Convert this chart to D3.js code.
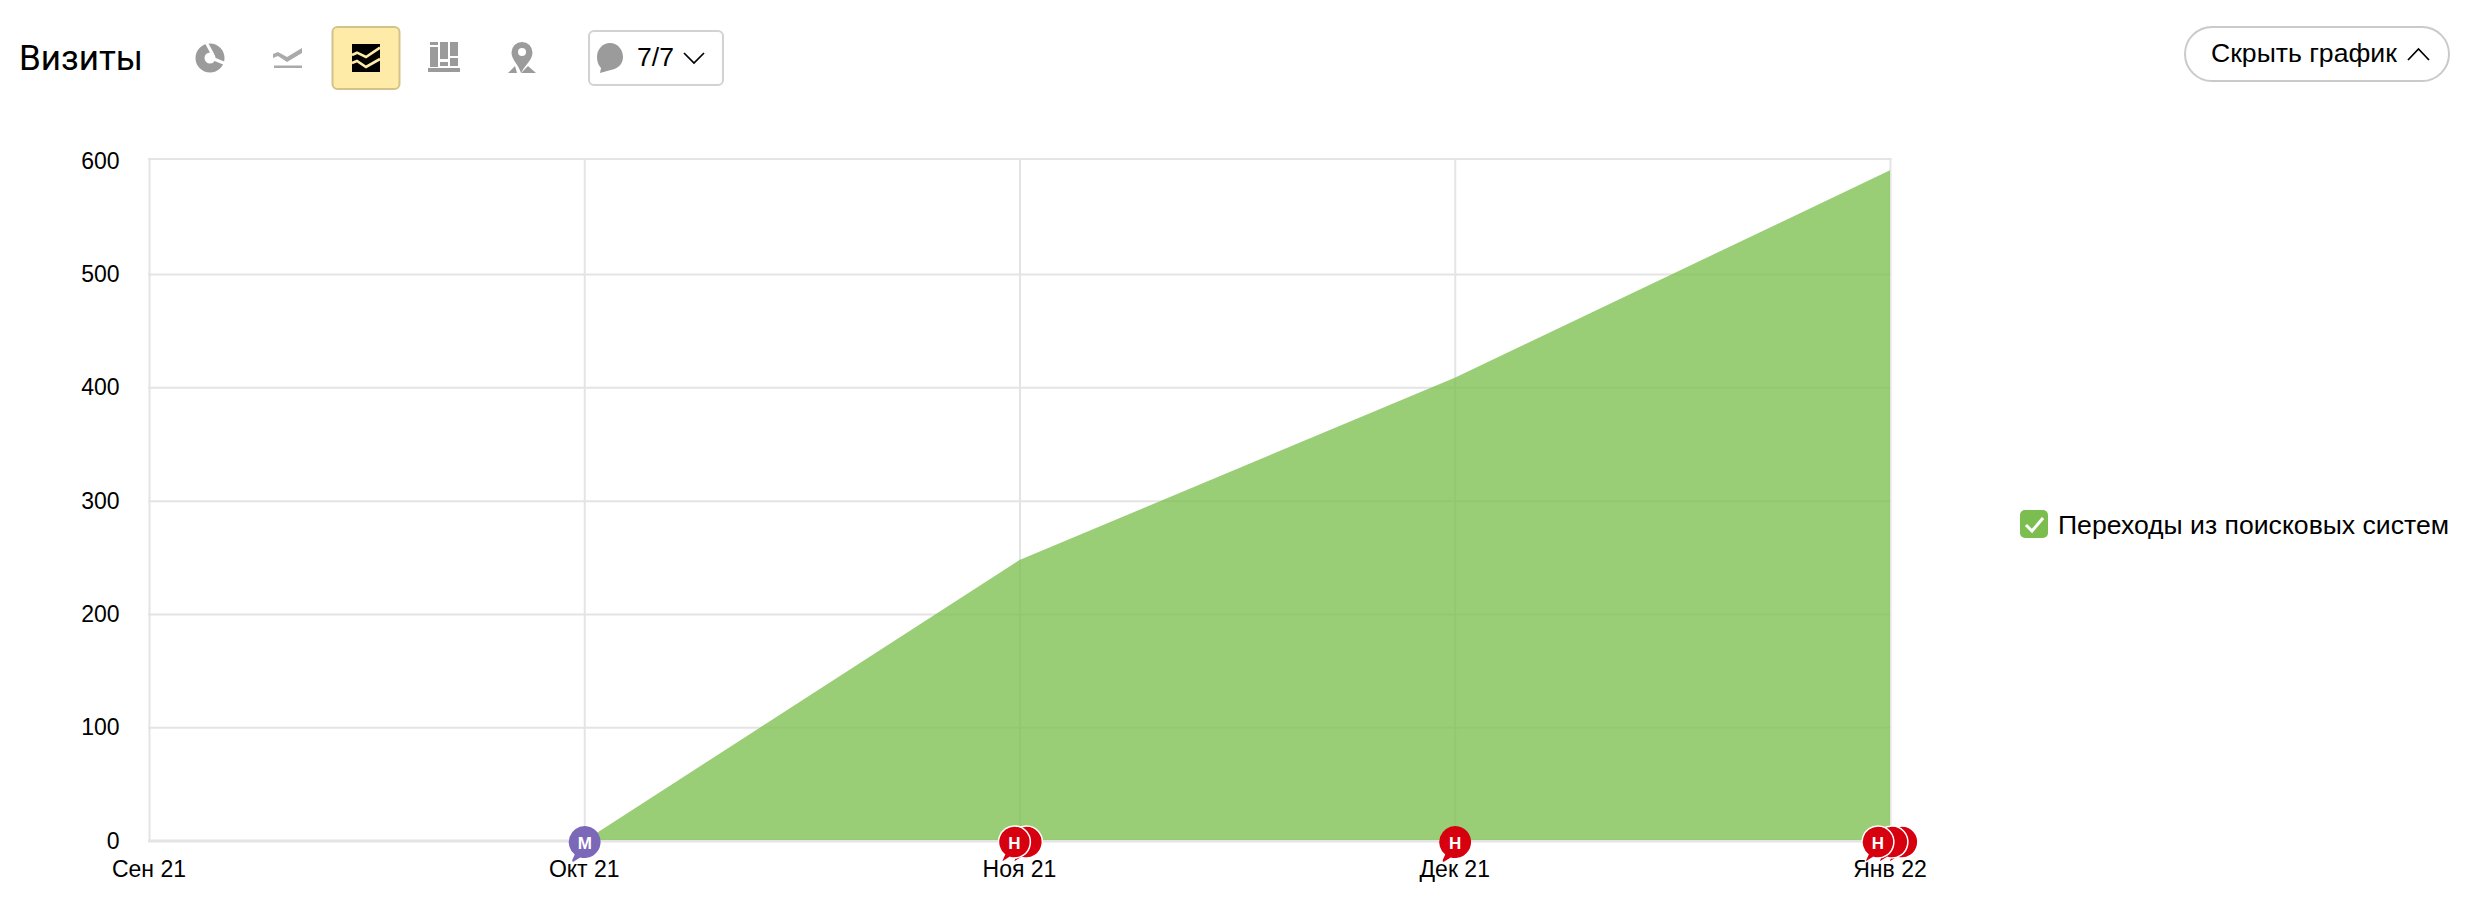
<!DOCTYPE html>
<html><head><meta charset="utf-8">
<script src="https://cdn.jsdelivr.net/npm/d3@7/dist/d3.min.js"></script>
<style>html,body{margin:0;padding:0;background:#fff}svg{display:block}text{font-family:"Liberation Sans",Arial,sans-serif;fill:#000}</style>
</head><body><svg id="c" width="2466" height="900"></svg>
<script>
const months = ["Сен 21","Окт 21","Ноя 21","Дек 21","Янв 22"];
const visits = [0,0,248,409,592];
const yTicks = [0,100,200,300,400,500,600];
const seriesName = "Переходы из поисковых систем";
const title = "Визиты";
const counter = "7/7";
const hideLabel = "Скрыть график";
const noteMonths = ["Окт 21","Ноя 21","Дек 21","Янв 22"];
const noteLetters = ["М","Н","Н","Н"];
const noteColors = ["#7b68b8","#d6000f","#d6000f","#d6000f"];
const noteCounts = [1,2,1,3];
const svg = d3.select("#c");
const x = d3.scalePoint().domain(months).range([149,1890]);
const y = d3.scaleLinear().domain([0,602]).range([841,159]);
const grid = "#e4e4e4";
// frame and gridlines: the top line is the end of the value domain
const gridVals = yTicks.filter(d=>d<600).concat(y.domain()[1]);
svg.append("g").selectAll("line").data(gridVals).join("line")
 .attr("x1",x.range()[0]-1).attr("x2",x.range()[1]+1.5).attr("y1",d=>y(d)).attr("y2",d=>y(d))
 .attr("stroke",grid).attr("stroke-width",d=>d===0?3:2);
svg.append("g").selectAll("line").data(months).join("line")
 .attr("x1",d=>x(d)+.5).attr("x2",d=>x(d)+.5).attr("y1",y.range()[1]).attr("y2",y(0))
 .attr("stroke",grid).attr("stroke-width",2);
// area
const pts = months.map((m,i)=>({m,v:visits[i]})).slice(1);
svg.append("path").datum(pts)
 .attr("d",d3.area().x(d=>x(d.m)).y0(y(0)-1).y1(d=>y(d.v)))
 .attr("fill","#7dc050").attr("fill-opacity",.78);
// axis labels
svg.append("g").selectAll("text").data(yTicks).join("text")
 .attr("x",119.5).attr("y",d=>y(d)+7.5).attr("text-anchor","end").attr("font-size",23).text(d=>d);
svg.append("g").selectAll("text").data(months).join("text")
 .attr("x",d=>x(d)).attr("y",877).attr("text-anchor","middle").attr("font-size",23).text(d=>d);
// note markers
const bubble="M0,-16A16,16 0 1 1 -4.5,15.4L-11,19.5Q-13,20.5 -12.5,18L-10,12.5A16,16 0 0 1 0,-16Z";
const stackOffsets = {1:[.5],2:[7,-5],3:[12,2,-12]};
noteMonths.forEach((m,i)=>{
 const g=svg.append("g").attr("transform",`translate(${x(m)},842)`);
 const list=stackOffsets[noteCounts[i]];
 list.forEach(o=>{
  g.append("path").attr("d",bubble).attr("transform",`translate(${o},0)`)
   .attr("fill",noteColors[i]).attr("stroke","#fff").attr("stroke-width",noteCounts[i]>1?1.5:0);
 });
 g.append("text").attr("x",list[list.length-1]).attr("y",6.5).attr("text-anchor","middle").attr("font-size",17).attr("font-weight",700).style("fill","#fff").text(noteLetters[i]);
});
// legend
svg.append("rect").attr("x",2020).attr("y",510).attr("width",28).attr("height",28).attr("rx",5).attr("fill","#7cbd50");
svg.append("path").attr("d","M2026,525L2032,531L2043,518").attr("fill","none").attr("stroke","#fff").attr("stroke-width",3);
svg.append("text").attr("x",2058).attr("y",534).attr("font-size",26.6).text(seriesName);
// header
svg.append("text").attr("x",19).attr("y",70).attr("font-size",35).style("font-family","Roboto,sans-serif").text(title);
const ic="#9b9b9b";
// pie icon
svg.append("circle").attr("cx",210).attr("cy",58).attr("r",10).attr("fill","none").attr("stroke",ic).attr("stroke-width",9);
svg.append("path").attr("d","M206,42L213,55M214,59L226,64").attr("fill","none").attr("stroke","#fff").attr("stroke-width",3);
// line icon
svg.append("path").attr("d","M273,54L278,52L287,57L302,48L302,53L287,62L278,56L273,58Z").attr("fill","#aaa");
svg.append("rect").attr("x",274).attr("y",65.5).attr("width",28).attr("height",2.5).attr("fill","#aaa");
// active button
svg.append("rect").attr("x",332.5).attr("y",27).attr("width",67).attr("height",62).attr("rx",5).attr("fill","#ffeba8").attr("stroke","#d4c389").attr("stroke-width",2);
svg.append("rect").attr("x",352).attr("y",44).attr("width",28).attr("height",28).attr("fill","#000");
svg.append("path").attr("d","M352,55L357,52.7L366,57L380,47.7").attr("fill","none").attr("stroke","#ffeba8").attr("stroke-width",2.6);
svg.append("path").attr("d","M352,63L357,61L366,67L380,59").attr("fill","none").attr("stroke","#ffeba8").attr("stroke-width",2.6);
// table icon
[[430,42,8,3],[430,47,8,20],[440,42,8,17],[440,62,8,4],[450,42,8,14],[450,58,8,8],[428,68,32,4]].forEach(r=>svg.append("rect").attr("x",r[0]).attr("y",r[1]).attr("width",r[2]).attr("height",r[3]).attr("fill",ic));
// map icon
svg.append("path").attr("d","M522,42A10.5,10.5 0 0 1 532.5,52.5C532.5,60 525,65 521,73C519,65 511.5,60 511.5,52.5A10.5,10.5 0 0 1 522,42Z").attr("fill",ic);
svg.append("circle").attr("cx",522).attr("cy",52).attr("r",4).attr("fill","#fff");
svg.append("path").attr("d","M515,66L517,73L508,73Z M528,66L536,73L521,73Z").attr("fill",ic);
// notes dropdown
svg.append("rect").attr("x",589).attr("y",31).attr("width",134).attr("height",54).attr("rx",5).attr("fill","#fff").attr("stroke","#d2d2d2").attr("stroke-width",2);
svg.append("path").attr("d","M610,43C618,43 623,50 623,57C623,65 617,69 609,70.5L600,73L601,68C598,65 597,61 597,57C597,50 602,43 610,43Z").attr("fill",ic);
svg.append("text").attr("x",637).attr("y",66).attr("font-size",26.6).text(counter);
svg.append("path").attr("d","M684,53L694,63L704,53").attr("fill","none").attr("stroke","#000").attr("stroke-width",1.7);
// hide button
svg.append("rect").attr("x",2185).attr("y",27).attr("width",264).attr("height",54).attr("rx",27).attr("fill","#fff").attr("stroke","#cacaca").attr("stroke-width",2);
svg.append("text").attr("x",2211).attr("y",62).attr("font-size",26.6).text(hideLabel);
svg.append("path").attr("d","M2408,60L2418.5,49L2429,60").attr("fill","none").attr("stroke","#000").attr("stroke-width",1.7);
</script></body></html>
